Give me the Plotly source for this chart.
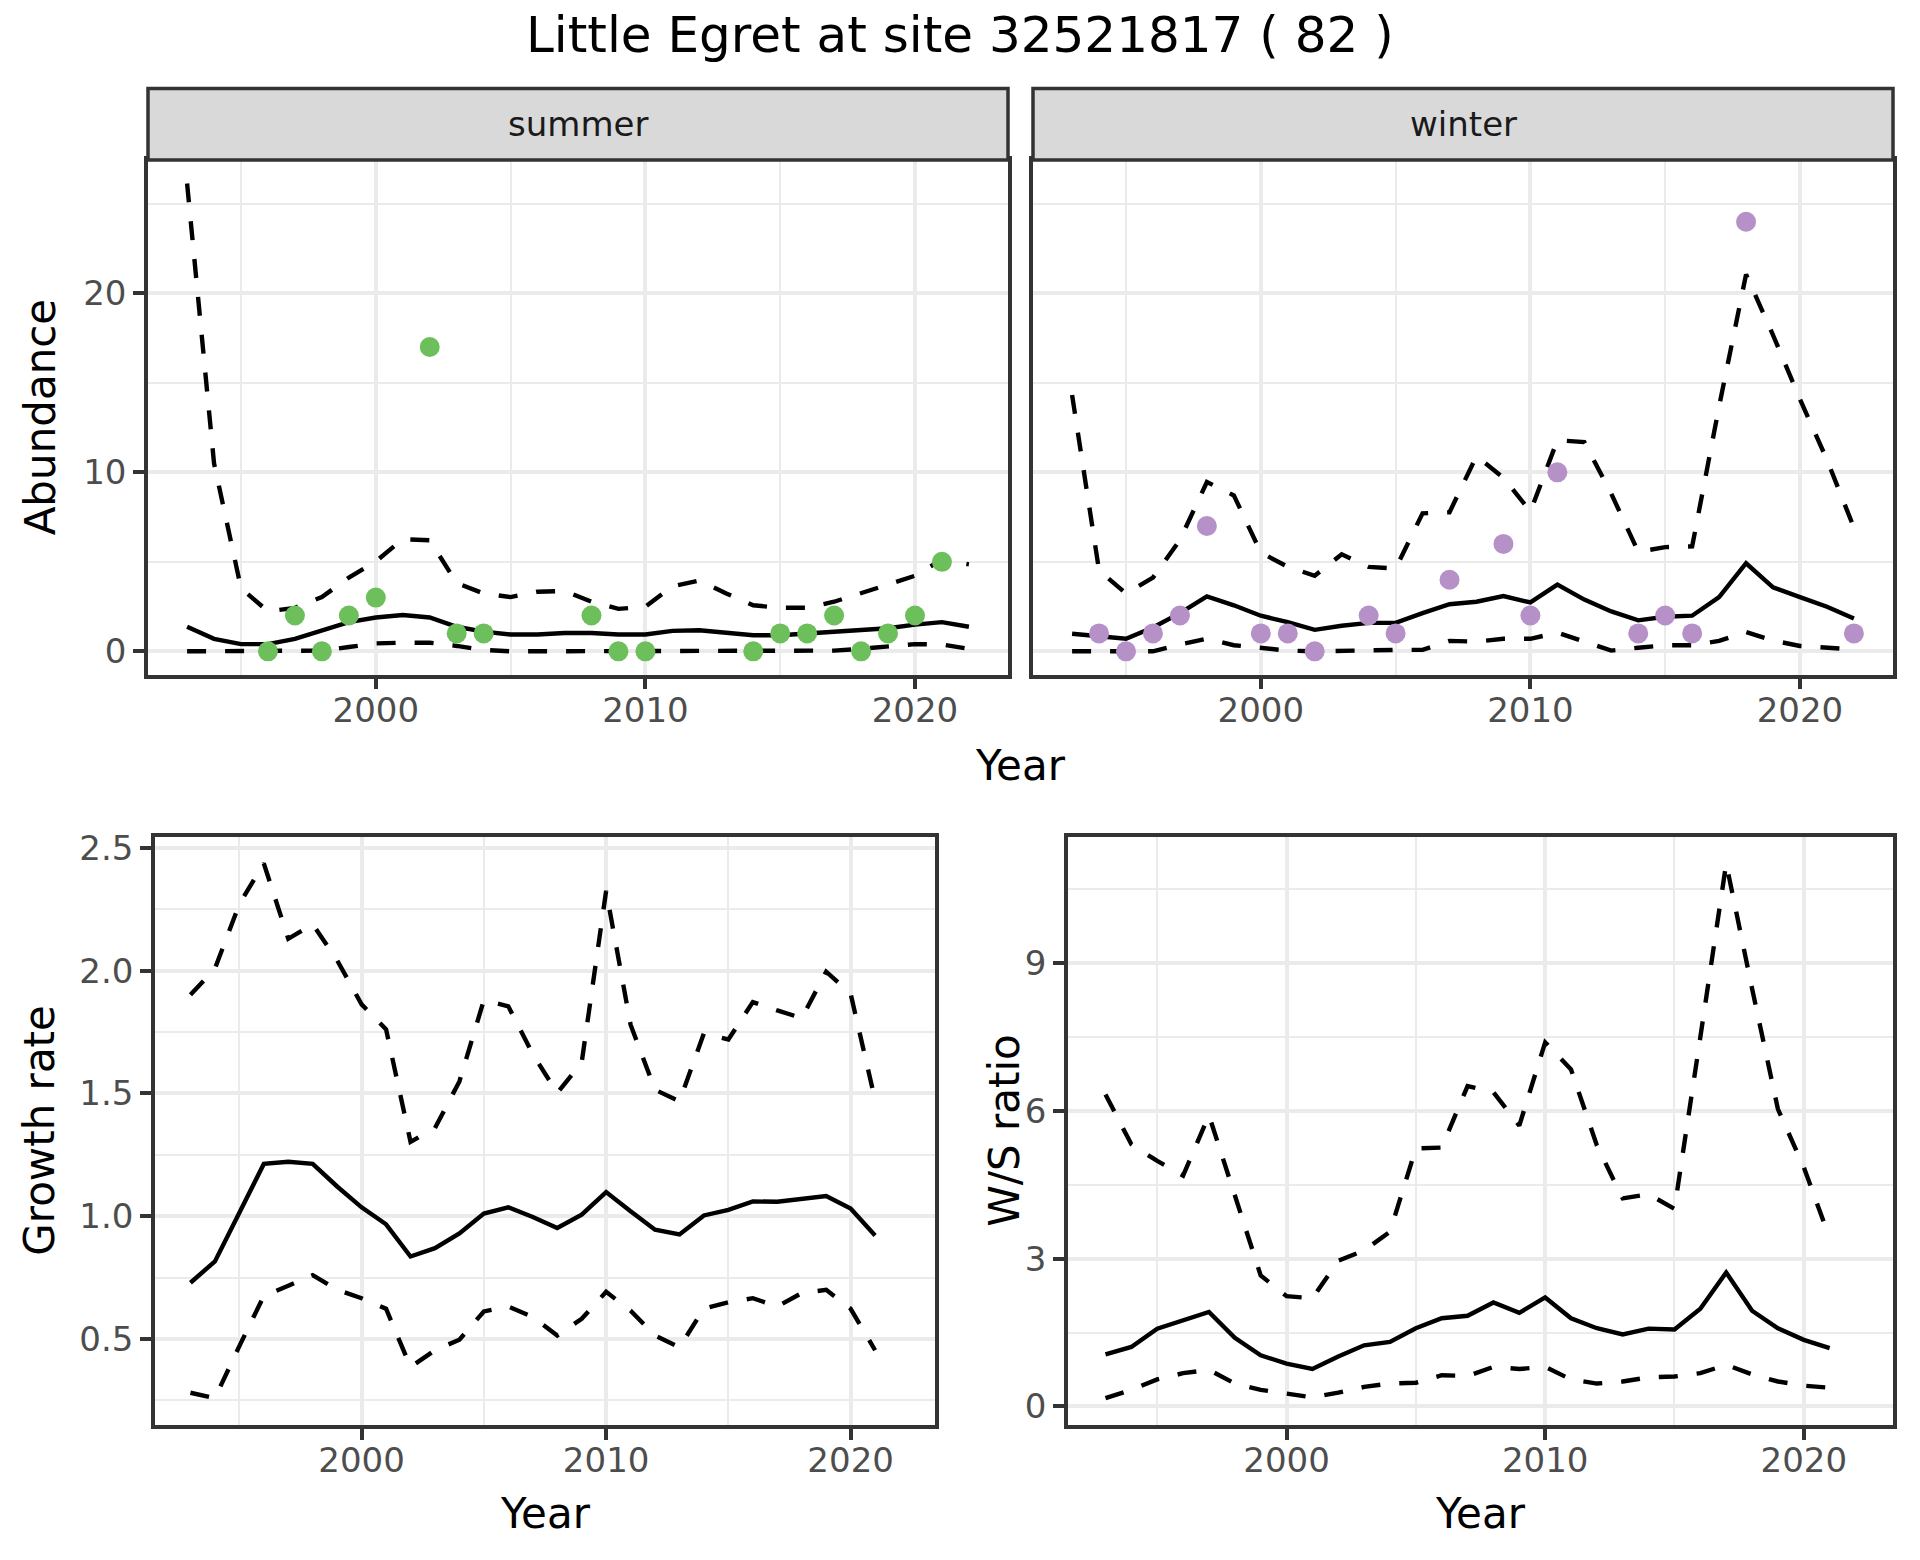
import plotly.graph_objects as go

W, H = 1920, 1560

# ---------------- data ----------------
years_ab = list(range(1993, 2023))
years_gr = list(range(1993, 2022))

summer_pt_years = [1996, 1997, 1998, 1999, 2000, 2002, 2003, 2004, 2008, 2009, 2010,
                   2014, 2015, 2016, 2017, 2018, 2019, 2020, 2021]
summer_pt_counts = [0, 2, 0, 2, 3, 17, 1, 1, 2, 0, 0, 0, 1, 1, 2, 0, 1, 2, 5]
winter_pt_years = [1994, 1995, 1996, 1997, 1998, 2000, 2001, 2002, 2004, 2005, 2007,
                   2009, 2010, 2011, 2014, 2015, 2016, 2018, 2022]
winter_pt_counts = [1, 0, 1, 2, 7, 1, 1, 0, 2, 1, 4, 6, 2, 10, 1, 2, 1, 24, 1]

summer_mid = [1.37, 0.70, 0.40, 0.40, 0.70, 1.14, 1.63, 1.89, 2.03, 1.89, 1.37, 1.10, 0.94, 0.94, 1.02,
              1.02, 0.94, 0.94, 1.14, 1.18, 1.06, 0.90, 0.90, 1.00, 1.10, 1.18, 1.29, 1.49, 1.63, 1.37]
summer_hi = [26.14, 10.5, 3.53, 2.23, 2.43, 3.03, 4.12, 5.02, 6.27, 6.2, 3.82, 3.23, 3.03, 3.33, 3.37,
             2.77, 2.37, 2.49, 3.63, 3.96, 3.23, 2.57, 2.43, 2.43, 2.77, 3.23, 3.73, 4.22, 5.12, 4.86]
summer_lo = [0, 0, 0, 0, 0, 0.04, 0.24, 0.44, 0.48, 0.48, 0.30, 0.08, 0, 0, 0,
             0, 0, 0, 0, 0, 0, 0, 0, 0, 0.04, 0.14, 0.30, 0.40, 0.38, 0.14]

winter_mid = [0.98, 0.84, 0.70, 1.33, 2.13, 3.07, 2.57, 1.99, 1.63, 1.20, 1.43, 1.59, 1.59, 2.13, 2.63,
              2.77, 3.09, 2.73, 3.73, 2.89, 2.23, 1.73, 1.93, 1.99, 3.03, 4.92, 3.57, 3.03, 2.49, 1.83]
winter_hi = [14.32, 4.52, 3.23, 4.12, 6.22, 9.46, 8.71, 5.52, 4.72, 4.22, 5.42, 4.72, 4.62, 7.71, 7.77,
             10.90, 9.70, 7.81, 11.79, 11.69, 8.80, 5.56, 5.82, 5.86, 13.69, 21.06, 17.67, 14.08, 10.70, 6.91]
winter_lo = [0, 0, 0, 0, 0.38, 0.70, 0.34, 0.18, 0.04, 0, 0.04, 0.08, 0.08, 0.08, 0.58,
             0.54, 0.70, 0.70, 1.04, 0.54, 0.04, 0.20, 0.34, 0.34, 0.58, 1.08, 0.60, 0.30, 0.18, 0.10]

growth_mid = [0.729, 0.816, 1.014, 1.213, 1.222, 1.213, 1.121, 1.036, 0.967, 0.836, 0.870, 0.930, 1.011,
              1.036, 0.997, 0.952, 1.006, 1.098, 1.020, 0.945, 0.926, 1.003, 1.026, 1.060, 1.059, 1.069,
              1.082, 1.031, 0.921]
growth_hi = [1.902, 2.008, 2.271, 2.437, 2.130, 2.189, 2.042, 1.863, 1.761, 1.303, 1.359, 1.549, 1.880,
             1.855, 1.660, 1.502, 1.626, 2.325, 1.78, 1.515, 1.468, 1.745, 1.72, 1.872, 1.838, 1.807,
             1.996, 1.906, 1.473]
growth_lo = [0.281, 0.259, 0.471, 0.675, 0.717, 0.760, 0.700, 0.666, 0.623, 0.386, 0.454, 0.497, 0.612,
             0.632, 0.590, 0.514, 0.582, 0.692, 0.615, 0.514, 0.466, 0.624, 0.649, 0.666, 0.632, 0.687,
             0.700, 0.623, 0.454]

ws_mid = [1.056, 1.208, 1.580, 1.749, 1.918, 1.394, 1.039, 0.870, 0.761, 1.014, 1.242, 1.310, 1.589,
          1.792, 1.842, 2.113, 1.901, 2.214, 1.792, 1.589, 1.462, 1.580, 1.563, 1.986, 2.721, 1.944,
          1.589, 1.352, 1.183]
ws_hi = [6.338, 5.324, 4.986, 4.690, 5.916, 4.268, 2.662, 2.240, 2.197, 2.958, 3.169, 3.549, 5.240,
         5.257, 6.507, 6.380, 5.704, 7.395, 6.845, 5.3, 4.225, 4.31, 4.014, 7.5, 11.03, 8.49,
         6.04, 4.86, 3.42]
ws_lo = [0.169, 0.338, 0.549, 0.676, 0.744, 0.465, 0.338, 0.254, 0.186, 0.279, 0.397, 0.465, 0.482,
         0.634, 0.617, 0.803, 0.761, 0.803, 0.549, 0.465, 0.507, 0.592, 0.608, 0.676, 0.845, 0.651,
         0.507, 0.423, 0.380]

title_text = "Little Egret at site 32521817 ( 82 )"
facet_labels = ["summer", "winter"]
x_ticks = [2000, 2010, 2020]

# ---------------- style ----------------
FONT = "DejaVu Sans"
SUMMER_COL = "#6CBF5A"
WINTER_COL = "#B591C8"
GRID = "#EBEBEB"
DARK = "#333333"
TICKFONT = dict(family=FONT, size=34, color="#4D4D4D")
LW = 4.4
DASH = "19px,19px"
BORDER = 3.5


def px_x(p):
    return p / W


def px_y(p):
    return 1 - p / H


def expand(vals, mult=0.05):
    lo, hi = min(vals), max(vals)
    d = (hi - lo) * mult
    return [lo - d, hi + d]


# panel rectangles in pixels: (left, right, top, bottom)
P_TL = (148, 1008, 152, 670)
P_TR = (1033, 1893, 152, 670)
P_BL = (155, 935, 833, 1425)
P_BR = (1068, 1893, 833, 1425)
STRIP_TOP = 80

xr = expand(years_ab)
top_yr = expand(summer_hi + summer_lo + winter_hi + winter_lo + summer_pt_counts + winter_pt_counts)
gr_yr = expand(growth_hi + growth_lo)
ws_yr = expand(ws_hi + ws_lo)

fig = go.Figure()


def add_band(xs, mid, hi, lo, xa, ya):
    for ys, dash in ((hi, DASH), (lo, DASH), (mid, "solid")):
        fig.add_trace(go.Scatter(x=xs, y=ys, mode="lines", xaxis=xa, yaxis=ya,
                                 line=dict(color="black", width=LW, dash=dash),
                                 showlegend=False, hoverinfo="skip"))


add_band(years_ab, summer_mid, summer_hi, summer_lo, "x", "y")
fig.add_trace(go.Scatter(x=summer_pt_years, y=summer_pt_counts, mode="markers", xaxis="x", yaxis="y",
                         marker=dict(color=SUMMER_COL, size=20, line=dict(width=0)), showlegend=False))
add_band(years_ab, winter_mid, winter_hi, winter_lo, "x2", "y2")
fig.add_trace(go.Scatter(x=winter_pt_years, y=winter_pt_counts, mode="markers", xaxis="x2", yaxis="y2",
                         marker=dict(color=WINTER_COL, size=20, line=dict(width=0)), showlegend=False))
add_band(years_gr, growth_mid, growth_hi, growth_lo, "x3", "y3")
add_band(years_gr, ws_mid, ws_hi, ws_lo, "x4", "y4")


def xaxis(panel, anchor):
    l, r, t, b = panel
    return dict(domain=[px_x(l), px_x(r)], anchor=anchor, range=xr, tickvals=x_ticks,
                showgrid=True, gridcolor=GRID, gridwidth=4, zeroline=False,
                minor=dict(tickvals=[1995, 2005, 2015], showgrid=True, gridcolor=GRID, gridwidth=2, ticks=""),
                showline=True, mirror=True, linecolor=DARK, linewidth=BORDER,
                ticks="outside", ticklen=11, tickwidth=4, tickcolor=DARK,
                tickfont=TICKFONT, ticklabelstandoff=-8)


def yaxis(panel, anchor, rng, major, minor, labels=True, ticktext=None):
    l, r, t, b = panel
    d = dict(domain=[px_y(b), px_y(t)], anchor=anchor, range=rng, tickvals=major,
             showgrid=True, gridcolor=GRID, gridwidth=4, zeroline=False,
             minor=dict(tickvals=minor, showgrid=True, gridcolor=GRID, gridwidth=2, ticks=""),
             showline=True, mirror=True, linecolor=DARK, linewidth=BORDER,
             tickfont=TICKFONT, showticklabels=labels)
    if ticktext is not None:
        d["ticktext"] = ticktext
    if labels:
        d.update(ticks="outside", ticklen=11, tickwidth=4, tickcolor=DARK, ticklabelstandoff=0)
    else:
        d.update(ticks="")
    return d


top_major = [0, 10, 20]
top_minor = [5, 15, 25]
gr_major = [0.5, 1.0, 1.5, 2.0, 2.5]
gr_labels = ["0.5", "1.0", "1.5", "2.0", "2.5"]
gr_minor = [0.25, 0.75, 1.25, 1.75, 2.25]
ws_major = [0, 3, 6, 9]
ws_minor = [1.5, 4.5, 7.5, 10.5]

fig.update_layout(
    width=W, height=H, margin=dict(l=0, r=0, t=0, b=0),
    paper_bgcolor="white", plot_bgcolor="white",
    font=dict(family=FONT, color="black"),
    xaxis=xaxis(P_TL, "y"), yaxis=yaxis(P_TL, "x", top_yr, top_major, top_minor),
    xaxis2=xaxis(P_TR, "y2"), yaxis2=yaxis(P_TR, "x2", top_yr, top_major, top_minor, labels=False),
    xaxis3=xaxis(P_BL, "y3"), yaxis3=yaxis(P_BL, "x3", gr_yr, gr_major, gr_minor, ticktext=gr_labels),
    xaxis4=xaxis(P_BR, "y4"), yaxis4=yaxis(P_BR, "x4", ws_yr, ws_major, ws_minor),
)

shapes = []
annotations = []
for panel, lab in ((P_TL, facet_labels[0]), (P_TR, facet_labels[1])):
    l, r, t, b = panel
    shapes.append(dict(type="rect", xref="paper", yref="paper",
                       x0=px_x(l), x1=px_x(r), y0=px_y(t), y1=px_y(STRIP_TOP),
                       fillcolor="#D9D9D9", line=dict(color=DARK, width=BORDER), layer="above"))
    annotations.append(dict(text=lab, xref="paper", yref="paper", x=px_x((l + r) / 2),
                            y=px_y((t + STRIP_TOP) / 2), xanchor="center", yanchor="middle",
                            showarrow=False, font=dict(family=FONT, size=34, color="#1A1A1A")))

title_font = dict(family=FONT, size=42, color="black")
annotations += [
    dict(text=title_text, xref="paper", yref="paper", x=px_x(960), y=px_y(26), xanchor="center",
         yanchor="middle", showarrow=False, font=dict(family=FONT, size=50, color="black")),
    dict(text="Year", xref="paper", yref="paper", x=px_x((P_TL[0] + P_TR[1]) / 2), y=px_y(761),
         xanchor="center", yanchor="middle", showarrow=False, font=title_font),
    dict(text="Year", xref="paper", yref="paper", x=px_x((P_BL[0] + P_BL[1]) / 2), y=px_y(1514),
         xanchor="center", yanchor="middle", showarrow=False, font=title_font),
    dict(text="Year", xref="paper", yref="paper", x=px_x((P_BR[0] + P_BR[1]) / 2), y=px_y(1514),
         xanchor="center", yanchor="middle", showarrow=False, font=title_font),
    dict(text="Abundance", xref="paper", yref="paper", x=px_x(40), y=px_y((P_TL[2] + P_TL[3]) / 2),
         xanchor="center", yanchor="middle", textangle=-90, showarrow=False, font=title_font),
    dict(text="Growth rate", xref="paper", yref="paper", x=px_x(40), y=px_y((P_BL[2] + P_BL[3]) / 2),
         xanchor="center", yanchor="middle", textangle=-90, showarrow=False, font=title_font),
    dict(text="W/S ratio", xref="paper", yref="paper", x=px_x(1005), y=px_y((P_BR[2] + P_BR[3]) / 2),
         xanchor="center", yanchor="middle", textangle=-90, showarrow=False, font=title_font),
]
fig.update_layout(shapes=shapes, annotations=annotations)

post = (
    "document.body.style.margin='0px';"
    "document.body.style.padding='0px';"
    "document.body.style.overflow='hidden';"
    "var gd=document.getElementById('{plot_id}');"
    "gd.style.position='absolute';gd.style.top='0px';gd.style.left='0px';"
)
fig.write_html("out.html", config={"displayModeBar": False}, post_script=post)
